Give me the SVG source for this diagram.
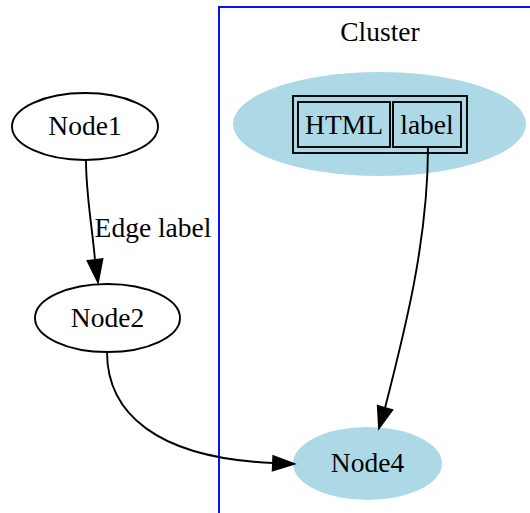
<svg xmlns="http://www.w3.org/2000/svg" width="530" height="513" viewBox="0 0 530 513">
<style>
text{font-family:"Liberation Serif","Times New Roman",serif;font-size:27.5px;fill:#000;text-anchor:middle}
.n{fill:#fff;stroke:#000;stroke-width:1.9}
.f{fill:#add8e6;stroke:none}
.e{fill:none;stroke:#000;stroke-width:1.9}
.a{fill:#000;stroke:#000;stroke-width:1.9}
.c{fill:none;stroke:#0000ff;stroke-width:1.9}
.t{fill:none;stroke:#000;stroke-width:1.9}
</style>
<rect width="530" height="513" fill="#fff"/>
<g id="cluster">
<rect class="c" x="219" y="7" width="330" height="520"/>
<text x="380" y="41">Cluster</text>
</g>
<g id="node1">
<ellipse class="n" cx="85" cy="126.5" rx="73" ry="33.5"/>
<text x="85" y="135">Node1</text>
</g>
<g id="node2">
<ellipse class="n" cx="107.5" cy="318" rx="72.5" ry="34"/>
<text x="107.5" y="327">Node2</text>
</g>
<g id="node3">
<ellipse class="f" cx="379.5" cy="124" rx="146.5" ry="52"/>
<rect class="t" x="293" y="96" width="174" height="57"/>
<rect class="t" x="298" y="102" width="92" height="45"/>
<rect class="t" x="393" y="102" width="68" height="45"/>
<text x="344" y="134">HTML</text>
<text x="427" y="134">label</text>
</g>
<g id="node4">
<ellipse class="f" cx="367.5" cy="463.5" rx="74.5" ry="36.5"/>
<text x="367.5" y="472">Node4</text>
</g>
<g id="edges">
<path class="e" d="M86,160 C86,195 92,225 95,260"/>
<polygon class="a" points="87.6,261 102.4,259 98,282"/>
<text x="153" y="237">Edge label</text>
<path class="e" d="M428,147 C428,240 405,330 385,408"/>
<polygon class="a" points="377.8,405.9 392.2,410.1 379,428"/>
<path class="e" d="M107,352 C107,412 155,458 273,463"/>
<polygon class="a" points="273.3,456 272.7,470.5 294,464"/>
</g>
</svg>
